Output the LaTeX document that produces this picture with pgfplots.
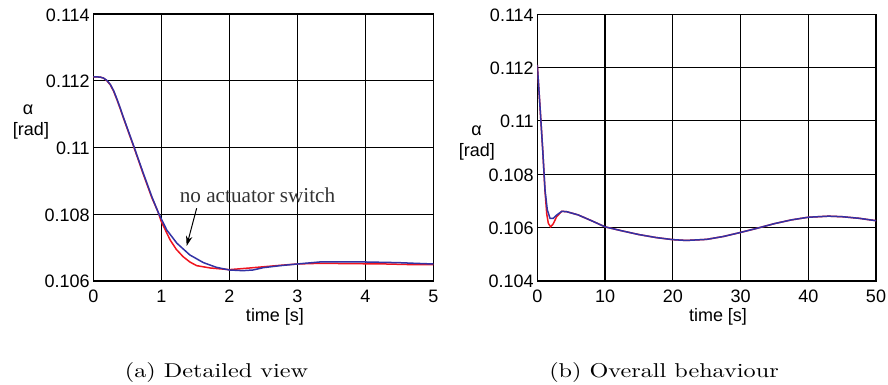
\documentclass[border=0pt]{standalone}
\usepackage{pgfplots}
\pgfplotsset{compat=1.18}
\usepackage{graphicx}
\usepackage{fontspec}
\newfontfamily\arialf{Liberation Sans}
\newfontfamily\timesf{Liberation Serif}
\usetikzlibrary{arrows.meta}
\definecolor{cred}{RGB}{240,20,30}
\definecolor{cblue}{RGB}{50,50,165}
\pgfplotsset{
  mystyle/.style={
    scale only axis,
    anchor=south west,
    axis line style={black, line width=0.6pt},
    grid=major,
    major grid style={black, line width=0.55pt},
    major tick length=0pt,
    /pgf/number format/assume math mode=true,
    ticklabel style={font=\arialf\fontsize{9}{10}\selectfont},
    yticklabel style={anchor=east, inner sep=0pt, xshift=-1.6pt, yshift=-0.4pt},
    xticklabel style={anchor=north, inner sep=0pt, yshift=-4.3pt},
  }
}
\begin{document}
\begin{tikzpicture}
\path[use as bounding box] (0,0) rectangle (444pt,-192.5pt);
% ---------- left
\begin{axis}[mystyle,
  at={(46.65pt,-140.5pt)}, width=170pt, height=133.5pt,
  xmin=0, xmax=5, ymin=0.106, ymax=0.114,
  xtick={0,1,2,3,4,5},
  ytick={0.106,0.108,0.110,0.112,0.114},
  yticklabels={0.106,0.108,0.11,0.112,0.114},
]
\addplot[cred, line width=0.75pt] coordinates {
(0,0.11212) (0.1,0.11211) (0.15,0.11208) (0.2,0.11200) (0.25,0.11188)
(0.3,0.11168) (0.35,0.11142) (0.4,0.11114) (0.44,0.11090) (0.59,0.11005)
(0.735,0.10920) (0.86,0.10850) (0.95,0.10808)
(1.0,0.10778) (1.13,0.10723) (1.22,0.10695) (1.32,0.10673) (1.42,0.10657)
(1.52,0.10646) (1.72,0.10639)
(2.0,0.10634) (2.3,0.10639) (2.75,0.10647) (3.0,0.10651) (3.33,0.10653)
(4.3,0.10651) (4.7,0.10649) (5,0.10649)};
\addplot[cblue, line width=0.75pt] coordinates {
(0,0.11212) (0.1,0.11211) (0.15,0.11208) (0.2,0.11201) (0.25,0.11189)
(0.3,0.11170) (0.35,0.11144) (0.4,0.11116) (0.44,0.11092) (0.59,0.11007)
(0.735,0.10923) (0.86,0.10853) (0.96,0.10803)
(1.08,0.10753) (1.23,0.10713) (1.42,0.10678) (1.62,0.10655) (1.81,0.10641)
(2.0,0.10633) (2.2,0.10631) (2.35,0.10633) (2.5,0.10640) (2.75,0.10646)
(3.0,0.10651) (3.33,0.10657) (4.0,0.10657) (4.49,0.10655) (4.73,0.10653)
(5,0.10651)};
\node[font=\timesf\fontsize{10.6}{12}\selectfont, text=black!80, inner sep=0pt]
  at (axis cs:2.415,0.10858) {no actuator switch};
\draw[-{Stealth[length=5pt,width=3.2pt]}, line width=0.5pt]
  (axis cs:1.52,0.10818) -- (axis cs:1.373,0.10705);
\end{axis}
% ---------- right
\begin{axis}[mystyle,
  at={(268.65pt,-140.5pt)}, width=169.35pt, height=133.4pt,
  xmin=0, xmax=50, ymin=0.104, ymax=0.114,
  xtick={0,10,20,30,40,50},
  ytick={0.104,0.106,0.108,0.110,0.112,0.114},
  yticklabels={0.104,0.106,0.108,0.11,0.112,0.114},
]
\addplot[cred, line width=0.75pt] coordinates {
(0,0.1121) (0.4,0.11053) (0.8,0.10891) (1.14,0.10735) (1.4,0.10650)
(1.63,0.10616) (1.97,0.10603) (2.35,0.10614) (2.85,0.10641) (3.6,0.10661)
(4.3,0.10660) (6,0.10648) (8,0.10626) (10,0.10603) (12.5,0.10588)
(15,0.10574) (17.5,0.10563) (20,0.10555) (22,0.10552) (25,0.10556)
(27.5,0.10567) (30,0.10582) (32.5,0.10598) (35,0.10615) (37.5,0.10629)
(40,0.10639) (43,0.10643) (45,0.10641) (47.5,0.10635) (50,0.10626)};
\addplot[cblue, line width=0.75pt] coordinates {
(0,0.1121) (0.4,0.11053) (0.8,0.10891) (1.14,0.10741) (1.48,0.10666)
(1.88,0.10635) (2.35,0.10635) (2.86,0.10647) (3.6,0.10661)
(4.3,0.10660) (6,0.10648) (8,0.10626) (10,0.10603) (12.5,0.10588)
(15,0.10574) (17.5,0.10563) (20,0.10555) (22,0.10552) (25,0.10556)
(27.5,0.10567) (30,0.10582) (32.5,0.10598) (35,0.10615) (37.5,0.10629)
(40,0.10639) (43,0.10643) (45,0.10641) (47.5,0.10635) (50,0.10626)};
\end{axis}
% ---------- labels
\begin{scope}[every node/.style={font=\arialf\fontsize{9}{10}\selectfont, inner sep=0pt, anchor=base}]
\node at (14pt,-57.5pt) {α};
\node at (15.5pt,-67.5pt) {[rad]};
\node at (238.25pt,-67.5pt) {α};
\node at (238.4pt,-78pt) {[rad]};
\node at (137.5pt,-160.5pt) {time [s]};
\node at (359pt,-160.5pt) {time [s]};
\end{scope}
\node[anchor=base, inner sep=0pt] at (108.25pt,-188.5pt) {\scalebox{1.21}[1]{(a) Detailed view}};
\node[anchor=base, inner sep=0pt] at (332pt,-188.5pt) {\scalebox{1.21}[1]{(b) Overall behaviour}};
\end{tikzpicture}
\end{document}
